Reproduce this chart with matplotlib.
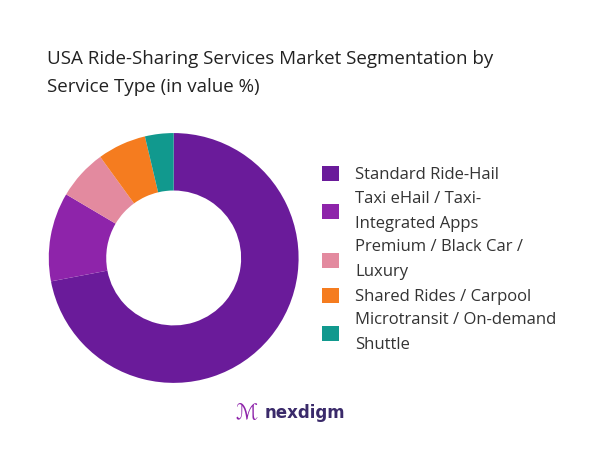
import matplotlib
matplotlib.use("Agg")
import matplotlib.pyplot as plt

labels = ["Standard Ride-Hail", "Taxi eHail / Taxi-\nIntegrated Apps", "Premium / Black Car /\nLuxury",
          "Shared Rides / Carpool", "Microtransit / On-demand\nShuttle"]
values = [72, 11.5, 6.5, 6.3, 3.7]
colors = ["#6A1B9A", "#8E24AA", "#E38A9F", "#F57C1F", "#11998E"]

fig = plt.figure(figsize=(6.02, 4.51), dpi=100)
fig.patch.set_facecolor("white")
ax = fig.add_axes([0.081, 0.151, 0.415, 0.554])
wedges, _ = ax.pie(values, colors=colors, startangle=90, counterclock=False,
                   wedgeprops=dict(width=0.46, linewidth=0))
ax.set_xlim(-1, 1); ax.set_ylim(-1, 1)
ax.set_aspect("equal")
fig.text(0.078, 0.89, "USA Ride-Sharing Services Market Segmentation by\nService Type (in value %)",
         fontsize=13.5, va="top", ha="left", family="Open Sans", color="#222222", linespacing=1.75)
leg = fig.legend(wedges, labels, loc="upper left", bbox_to_anchor=(0.51, 0.665), frameon=False,
           handlelength=1.0, handleheight=1.0, labelspacing=0.45, handletextpad=1.0,
           prop={"family": "Open Sans", "size": 12}, labelcolor="#333333")
for t in leg.get_texts():
    t.set_linespacing(1.75)
fig.text(0.44, 0.085, "nexdigm", fontsize=12, fontweight="bold", color="#3a2a6a", ha="left", va="center")
fig.text(0.41, 0.085, "ℳ", fontsize=15, color="#8E24AA", ha="center", va="center")
fig.savefig("out.png", dpi=100)
